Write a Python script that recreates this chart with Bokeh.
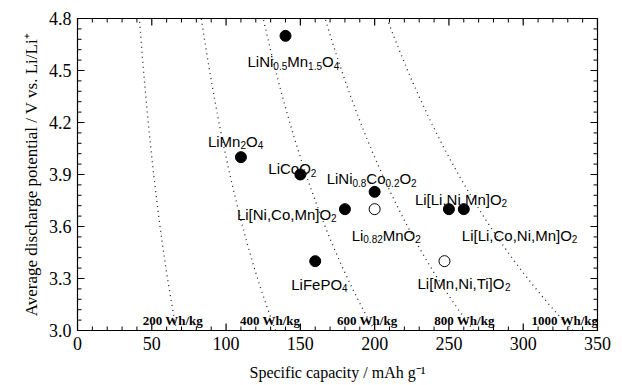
import re
import numpy as np
from bokeh.plotting import figure
from bokeh.models import (ColumnDataSource, LinearAxis, FixedTicker, PrintfTickFormatter,
                          Range1d, Title)
from bokeh.embed import file_html
from bokeh.resources import INLINE
from bokeh.core.properties import value

# ---------------- data ----------------
materials = ["LiNi_{0.5}Mn_{1.5}O_{4}", "LiMn_{2}O_{4}", "LiCoO_{2}", "LiNi_{0.8}Co_{0.2}O_{2}",
             "Li[Ni,Co,Mn]O_{2}", "Li_{0.82}MnO_{2}", "Li[Li,Ni,Mn]O_{2}",
             "Li[Li,Co,Ni,Mn]O_{2}", "LiFePO_{4}", "Li[Mn,Ni,Ti]O_{2}"]
capacity = [140, 110, 150, 200, 180, 200, 250, 260, 160, 247]
voltage = [4.7, 4.0, 3.9, 3.8, 3.7, 3.7, 3.7, 3.7, 3.4, 3.4]
filled = [True, True, True, True, True, False, True, True, True, False]
energy_densities = [200, 400, 600, 800, 1000]
x_ticks = [0, 50, 100, 150, 200, 250, 300, 350]
y_ticks = [3.0, 3.3, 3.6, 3.9, 4.2, 4.5, 4.8]

# ---------------- layout / style ----------------
W, H = 622, 385
BL, BR, BT, BB = 77, 25, 18, 55
X0, X1, Y0, Y1 = 0, 350, 3.0, 4.8
label_offsets = [(-38, 26), (-33, -16), (-32, -6), (-48, -13), (-108, 5),
                 (-23, 26), (-34, -10), (-2, 26), (-24, 23), (-27, 22)]
MAIN_SIZE = 15.0
SUB_SIZE = 10.0
SUB_DROP = 4.0
ARIAL_W = {'L': 556, 'i': 222, 'N': 722, 'M': 833, 'n': 556, 'O': 778, 'C': 722,
           'o': 556, 'F': 611, 'e': 556, 'P': 667, 'T': 611, '[': 278, ']': 278,
           ',': 278, '.': 278}
for d in "0123456789":
    ARIAL_W[d] = 556


def text_width(s, size):
    return sum(ARIAL_W.get(c, 556) for c in s) * size / 1000.0


SANS = "Liberation Sans"
SERIF = "Liberation Serif"

p = figure(width=W, height=H, output_backend="svg", toolbar_location=None,
           x_range=Range1d(X0, X1), y_range=Range1d(Y0, Y1),
           min_border_left=BL, min_border_right=BR, min_border_top=BT, min_border_bottom=BB)
p.grid.visible = False
p.outline_line_color = "black"
p.outline_line_width = 1.2

x_minor = [v for v in range(0, 351, 10) if v not in x_ticks]
y_minor = [round(3.0 + 0.06 * i, 2) for i in range(0, 31)]
y_minor = [v for v in y_minor if all(abs(v - t) > 1e-6 for t in y_ticks)]


def style_axis(ax, ticks, show_labels):
    ax.ticker = FixedTicker(ticks=ticks, minor_ticks=[])
    ax.major_tick_in = 0
    ax.major_tick_out = 0
    ax.minor_tick_in = 0
    ax.minor_tick_out = 0
    ax.axis_line_color = "black"
    if show_labels:
        ax.formatter = PrintfTickFormatter(format="%.1f") if isinstance(ticks[0], float) else PrintfTickFormatter(format="%d")
        ax.major_label_text_font = SERIF
        ax.major_label_text_font_size = "18px"
        ax.major_label_text_color = "black"
    else:
        ax.major_label_text_font_size = "0px"
        ax.major_label_text_color = None
        ax.major_label_standoff = 0


style_axis(p.xaxis[0], x_ticks, True)
style_axis(p.yaxis[0], y_ticks, True)
p.xaxis[0].major_label_standoff = 6
p.yaxis[0].major_label_standoff = 6
p.xaxis[0].axis_label = "Specific capacity / mAh g\u207b\u00b9"
p.xaxis[0].axis_label_text_font = SERIF
p.xaxis[0].axis_label_text_font_size = "16px"
p.xaxis[0].axis_label_text_font_style = "normal"
p.xaxis[0].axis_label_text_color = "black"
p.xaxis[0].axis_label_standoff = 11

top_ax = LinearAxis()
right_ax = LinearAxis()
style_axis(top_ax, x_ticks, False)
style_axis(right_ax, y_ticks, False)
p.add_layout(top_ax, "above")
p.add_layout(right_ax, "right")

ytitle = Title(text="Average discharge potential / V vs. Li/Li\u207a", align="center",
               text_font=SERIF, text_font_size="17px", text_font_style="normal",
               text_color="black", offset=18, standoff=10)
p.add_layout(ytitle, "left")

# inward tick marks on all four sides (lengths in px converted via the frame scale)
ux = (X1 - X0) / (W - BL - BR)
uy = (Y1 - Y0) / (H - BT - BB)


def add_ticks(xt, yt, length, width):
    xs0, xs1, ys0, ys1 = [], [], [], []
    for t in xt:
        xs0 += [t, t]; xs1 += [t, t]
        ys0 += [Y0, Y1]; ys1 += [Y0 + length * uy, Y1 - length * uy]
    for t in yt:
        ys0 += [t, t]; ys1 += [t, t]
        xs0 += [X0, X1]; xs1 += [X0 + length * ux, X1 - length * ux]
    p.segment(xs0, ys0, xs1, ys1, line_color="black", line_width=width)


add_ticks(x_ticks, y_ticks, 7, 1.2)
add_ticks(x_minor, y_minor, 4, 1.0)

# iso-energy dotted curves: capacity = E / V
v_line = np.linspace(Y0, Y1, 60)
for e in energy_densities:
    p.line(e / v_line, v_line, line_color="#222222", line_width=1.3, line_dash="1 4")

LABEL_V = 3.057
elab = ColumnDataSource(dict(x=[e / LABEL_V for e in energy_densities],
                             y=[LABEL_V] * len(energy_densities),
                             t=[f"{e} Wh/kg" for e in energy_densities]))
p.text("x", "y", text="t", source=elab, x_offset=-32, text_align="left",
       text_baseline="alphabetic", text_font=value(SERIF), text_font_style="bold",
       text_font_size="13px", text_color="black")

fill_cols = ["black" if f else "white" for f in filled]
pts = ColumnDataSource(dict(x=capacity, y=voltage, fc=fill_cols))
p.scatter("x", "y", source=pts, size=11, fill_color="fc", line_color="black", line_width=1)

main_seg = dict(x=[], y=[], t=[], xo=[], yo=[])
sub_seg = dict(x=[], y=[], t=[], xo=[], yo=[])
for name, cx, cy, (dx, dy) in zip(materials, capacity, voltage, label_offsets):
    parts = re.split(r"_\{([^}]*)\}", name)
    cur = dx
    for k, part in enumerate(parts):
        if not part:
            continue
        if k % 2 == 0:
            main_seg["x"].append(cx); main_seg["y"].append(cy); main_seg["t"].append(part)
            main_seg["xo"].append(cur); main_seg["yo"].append(dy)
            cur += text_width(part, MAIN_SIZE)
        else:
            sub_seg["x"].append(cx); sub_seg["y"].append(cy); sub_seg["t"].append(part)
            sub_seg["xo"].append(cur); sub_seg["yo"].append(dy + SUB_DROP)
            cur += text_width(part, SUB_SIZE)

p.text("x", "y", text="t", source=ColumnDataSource(main_seg), x_offset="xo", y_offset="yo",
       text_align="left", text_baseline="alphabetic", text_font=value(SANS),
       text_font_size=f"{MAIN_SIZE}px", text_color="black")
p.text("x", "y", text="t", source=ColumnDataSource(sub_seg), x_offset="xo", y_offset="yo",
       text_align="left", text_baseline="alphabetic", text_font=value(SANS),
       text_font_size=f"{SUB_SIZE}px", text_color="black")

open("out.html", "w").write(file_html(p, INLINE))
